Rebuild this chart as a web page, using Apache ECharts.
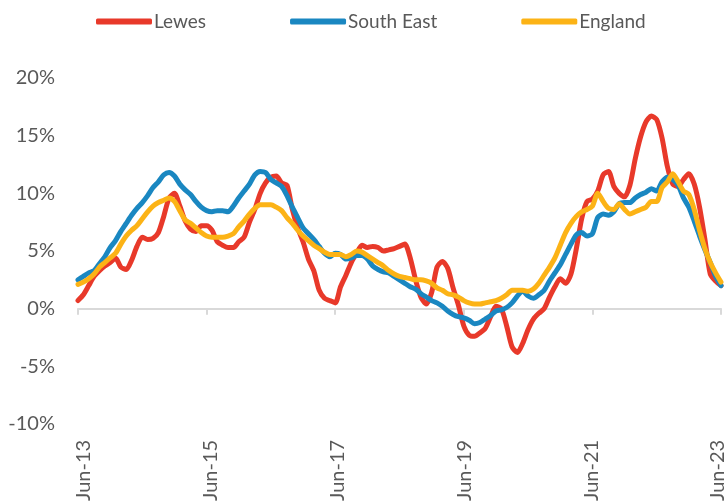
<!DOCTYPE html>
<html>
<head>
<meta charset="utf-8">
<script src="https://cdn.jsdelivr.net/npm/echarts@6/dist/echarts.min.js"></script>
<style>html,body{margin:0;padding:0;background:#fff}#c{width:728px;height:504px}</style>
</head>
<body>
<div id="c"></div>
<script>
var monthNames = ['Jan','Feb','Mar','Apr','May','Jun','Jul','Aug','Sep','Oct','Nov','Dec'];
var startYear = 13, startMonth = 5, monthCount = 121;
var categories = [];
for (var k = 0; k < monthCount; k++) {
  var m = (startMonth + k) % 12;
  var y = startYear + Math.floor((startMonth + k) / 12);
  categories.push(monthNames[m] + '-' + (y < 10 ? '0' + y : y));
}

var lewes = [0.7,1.2,2.0,2.8,3.3,3.7,4.0,4.4,3.6,3.4,4.2,5.4,6.2,6.0,6.1,6.6,8.0,9.6,10.0,8.9,
7.6,6.9,6.7,7.2,7.2,6.8,5.8,5.5,5.3,5.3,5.8,6.2,7.5,8.6,10.0,10.9,11.4,11.5,10.9,10.7,
8.6,7.0,5.8,4.3,3.3,1.6,0.9,0.7,0.5,1.9,2.9,4.0,4.8,5.5,5.3,5.4,5.3,5.0,5.1,5.2,
5.4,5.6,4.4,2.5,1.0,0.4,1.4,3.6,4.1,3.5,1.8,0.3,-1.5,-2.3,-2.4,-2.1,-1.7,-0.7,0.2,0.0,
-1.5,-3.3,-3.8,-3.0,-1.8,-0.9,-0.4,0.0,1.0,1.9,2.6,2.2,3.0,5.2,7.8,9.3,9.5,10.2,11.6,11.9,
10.6,10.0,9.7,10.7,13.0,14.9,16.2,16.7,16.4,14.8,12.3,10.8,10.6,11.2,11.7,10.8,8.8,6.0,3.0,2.4,
2.0];

var southEast = [2.5,2.8,3.1,3.3,3.9,4.5,5.3,5.9,6.7,7.4,8.1,8.7,9.2,9.8,10.5,11.0,11.6,11.8,11.5,10.8,
10.3,9.9,9.3,8.8,8.5,8.4,8.5,8.5,8.4,8.9,9.6,10.2,10.8,11.6,11.9,11.8,11.2,10.9,10.6,9.8,
8.8,7.9,7.0,6.5,6.0,5.4,4.8,4.5,4.8,4.7,4.3,4.4,4.6,4.6,4.3,3.7,3.4,3.2,3.1,2.8,
2.5,2.2,1.9,1.7,1.3,1.0,0.7,0.5,0.2,-0.2,-0.5,-0.7,-0.8,-1.0,-1.3,-1.2,-0.9,-0.6,-0.2,-0.1,
0.1,0.5,1.1,1.5,1.1,0.9,1.2,1.6,2.4,3.1,3.8,4.7,5.6,6.4,6.6,6.3,6.5,7.9,8.2,8.1,
8.4,9.1,9.2,9.2,9.6,9.9,10.1,10.4,10.2,11.0,11.4,11.2,10.7,9.6,8.8,7.6,6.3,5.1,4.0,2.8,
2.0];

var england = [2.1,2.3,2.6,3.0,3.6,4.0,4.4,4.8,5.6,6.3,6.8,7.2,7.8,8.4,8.9,9.2,9.4,9.6,9.3,8.5,
7.7,7.4,7.0,6.6,6.3,6.2,6.2,6.2,6.3,6.5,7.1,7.6,8.2,8.7,9.0,9.0,9.0,8.8,8.5,7.9,
7.4,6.8,6.3,5.9,5.5,5.2,4.9,4.7,4.7,4.7,4.5,4.7,5.0,4.9,4.6,4.3,4.0,3.7,3.3,3.0,
2.8,2.7,2.6,2.5,2.5,2.4,2.2,1.8,1.6,1.3,1.2,1.0,0.7,0.5,0.4,0.4,0.5,0.6,0.7,0.9,
1.2,1.6,1.6,1.6,1.5,1.7,2.2,2.9,3.6,4.4,5.5,6.6,7.4,8.0,8.4,8.6,8.9,10.0,9.3,8.7,
8.6,9.1,8.6,8.2,8.4,8.6,8.8,9.3,9.3,10.5,11.0,11.7,11.0,10.2,9.9,8.6,6.8,5.2,4.0,3.1,
2.3];

var yTicks = {min: -10, max: 20, step: 5};

var font = 'Lato, "Liberation Sans", sans-serif';
var txt = '#595959';
var chart = echarts.init(document.getElementById('c'), null, {renderer: 'canvas'});
function mk(name, data, color) {
  return {
    name: name, type: 'line', data: data, xAxisIndex: 0, yAxisIndex: 0,
    symbol: 'none', smooth: 0.25,
    lineStyle: {width: 5, color: color, cap: 'round', join: 'round'},
    itemStyle: {color: color}
  };
}
chart.setOption({
  animation: false,
  backgroundColor: '#ffffff',
  textStyle: {fontFamily: font},
  legend: {
    top: 7, left: 91,
    icon: 'roundRect', itemWidth: 56, itemHeight: 6, itemGap: 84,
    textStyle: {fontFamily: font, fontSize: 19, color: txt, padding: [0, 0, 0, -3]},
    data: ['Lewes', 'South East', 'England']
  },
  grid: [
    {left: 78, right: 7, top: 78, bottom: 80, containLabel: false},
    {left: 84, right: 1, top: 78, bottom: 80, containLabel: false}
  ],
  xAxis: [{
    gridIndex: 0,
    type: 'category', data: categories, boundaryGap: false, position: 'bottom',
    axisLine: {show: true, onZero: true, lineStyle: {color: '#d9d9d9', width: 2}},
    axisTick: {show: true, interval: 23, length: 6, lineStyle: {color: '#d9d9d9', width: 2}},
    axisLabel: {show: false},
    splitLine: {show: false}
  }, {
    gridIndex: 1,
    type: 'category', data: categories, boundaryGap: false, position: 'bottom',
    axisLine: {show: false, onZero: false},
    axisTick: {show: false},
    axisLabel: {interval: 23, rotate: 90, margin: 28, fontSize: 20, color: txt, fontFamily: font}
  }],
  yAxis: [{
    gridIndex: 0,
    type: 'value', min: yTicks.min, max: yTicks.max, interval: yTicks.step,
    axisLine: {show: false}, axisTick: {show: false}, splitLine: {show: false},
    axisLabel: {formatter: '{value}%', fontSize: 20, color: txt, margin: 23, fontFamily: font}
  }, {
    gridIndex: 1, show: false,
    type: 'value', min: yTicks.min, max: yTicks.max, interval: yTicks.step
  }],
  series: [
    mk('Lewes', lewes, '#E8392A'),
    mk('South East', southEast, '#1A87C1'),
    mk('England', england, '#FCB316')
  ]
});
</script>
</body>
</html>
